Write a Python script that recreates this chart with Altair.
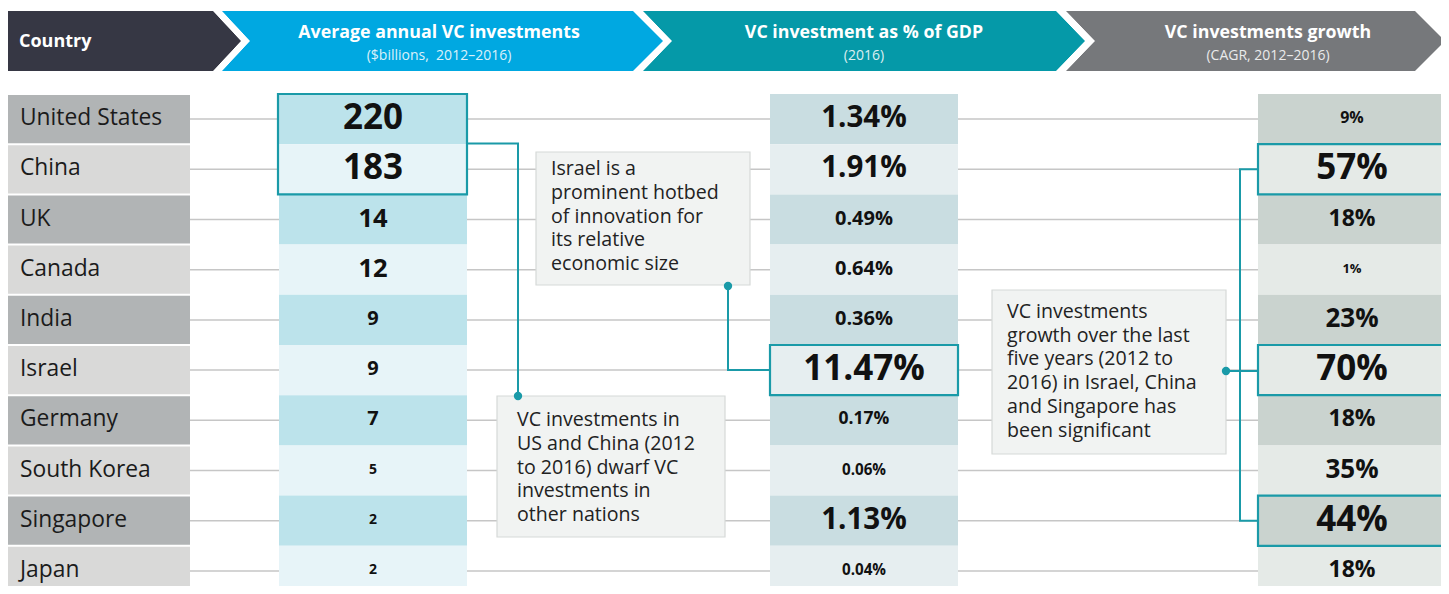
import altair as alt
import pandas as pd

# ---------------- data ----------------
countries = ["United States", "China", "UK", "Canada", "India", "Israel",
             "Germany", "South Korea", "Singapore", "Japan"]
vc_avg_billions = [220, 183, 14, 12, 9, 9, 7, 5, 2, 2]
vc_pct_gdp = [1.34, 1.91, 0.49, 0.64, 0.36, 11.47, 0.17, 0.06, 1.13, 0.04]
vc_growth_cagr = [9, 57, 18, 1, 23, 70, 18, 35, 44, 18]

header_titles = ["Country", "Average annual VC investments",
                 "VC investment as % of GDP", "VC investments growth"]
header_subtitles = ["", "($billions,\u00a0\u00a02012–2016)", "(2016)", "(CAGR, 2012–2016)"]

callout_israel = ["Israel is a", "prominent hotbed", "of innovation for",
                  "its relative", "economic size"]
callout_us_china = ["VC investments in", "US and China (2012", "to 2016) dwarf VC",
                    "investments in", "other nations"]
callout_growth = ["VC investments", "growth over the last", "five years (2012 to",
                  "2016) in Israel, China", "and Singapore has", "been significant"]

highlight_vc = ["United States", "China"]
highlight_gdp = ["Israel"]
highlight_growth = ["China", "Israel", "Singapore"]

# ---------------- layout / style ----------------
FONT = "Open Sans"
TEAL = "#1a9aa8"
ROW0, PITCH = 94.0, 50.2
N = len(countries)


def top(i):
    return ROW0 + i * PITCH


def mid(i):
    return ROW0 + (i + 0.5) * PITCH


COLS = {
    "country": (4, 190, "#b1b4b5", "#d9d9d8"),
    "vc": (279, 467, "#bce3eb", "#e7f4f8"),
    "gdp": (770, 958, "#c9dde1", "#e6eef0"),
    "growth": (1258, 1446, "#cad3cf", "#e5eae7"),
}

XS = alt.Scale(domain=[8, 1441], nice=False, zero=False)
YS = alt.Scale(domain=[8, 586], nice=False, zero=False, reverse=True)


def X(f):
    return alt.X(f"{f}:Q", scale=XS, axis=None)


def Y(f):
    return alt.Y(f"{f}:Q", scale=YS, axis=None)


def fs_vc(v):
    return 35 if v >= 100 else 25.5 if v >= 10 else 20 if v >= 7 else 14


def fs_gdp(v):
    return 35 if v >= 10 else 29.5 if v >= 1 else 20 if v >= 0.3 else 17.5 if v >= 0.1 else 15.2


def fs_growth(v):
    return 35 if v >= 40 else 26 if v >= 20 else 23 if v >= 15 else 16 if v >= 5 else 13


# ---------------- header chevrons (built from one-pixel horizontal strips) ----------------
HT, HB = 11, 71
HM = (HT + HB) / 2
chev_geo = [  # left, notch, right, tip, colour
    (3, None, 213, 241, "#363744"),
    (222, 250, 633, 663, "#00a8e1"),
    (643, 672, 1056, 1085, "#0599a8"),
    (1066, 1095, 1415, 1445, "#76787b"),
]
strip_rows = []
half = (HB - HT) / 2
for l, n, r, t, c in chev_geo:
    for yy in range(HT, HB):
        yc = yy + 0.5
        f = 1 - abs(yc - HM) / half
        xr = r + (t - r) * f
        xl = l if n is None else l + (n - l) * f
        strip_rows.append({"y": yc, "xl": xl, "xr": xr, "fill": c})
strips = alt.Chart(pd.DataFrame(strip_rows)).mark_rule(strokeWidth=1.05, strokeCap="butt").encode(
    x=X("xl"), x2=alt.X2("xr:Q"), y=Y("y"), color=alt.Color("fill:N", scale=None))

centers = [19, 439, 864, 1268]
country_head_df = pd.DataFrame([{"x": centers[0], "y": 42, "t": header_titles[0]}])
title_df = pd.DataFrame([{"x": centers[k], "y": 33, "t": header_titles[k]} for k in range(1, 4)])
sub_df = pd.DataFrame([{"x": centers[k], "y": 56, "t": header_subtitles[k]} for k in range(1, 4)])

head_country = alt.Chart(country_head_df).mark_text(
    font=FONT, fontWeight="bold", fontSize=18, color="white", align="left", baseline="middle"
).encode(x=X("x"), y=Y("y"), text="t:N")
head_titles = alt.Chart(title_df).mark_text(
    font=FONT, fontWeight="bold", fontSize=17.8, color="white", align="center", baseline="middle"
).encode(x=X("x"), y=Y("y"), text="t:N")
head_subs = alt.Chart(sub_df).mark_text(
    font=FONT, fontSize=14, color="white", opacity=0.85, align="center", baseline="middle"
).encode(x=X("x"), y=Y("y"), text="t:N")

# ---------------- table cells ----------------
cell_rows = []
for i in range(N):
    for key, (x0, x1, c_odd, c_even) in COLS.items():
        y0, y1 = top(i), top(i + 1)
        if key == "country":
            y0, y1 = y0 + 1, y1 - 1
        cell_rows.append({"x0": x0, "x1": x1, "y0": y0, "y1": y1,
                          "fill": c_odd if i % 2 == 0 else c_even})
cells_df = pd.DataFrame(cell_rows)
cells = alt.Chart(cells_df).mark_rect(clip=True).encode(
    x=X("x0"), x2=alt.X2("x1:Q"), y=Y("y0"), y2=alt.Y2("y1:Q"),
    color=alt.Color("fill:N", scale=None))

grid_df = pd.DataFrame({"x0": [190] * N, "x1": [1258] * N, "y": [mid(i) for i in range(N)]})
grid = alt.Chart(grid_df).mark_rule(color="#c6c6c6", strokeWidth=1.5).encode(
    x=X("x0"), x2=alt.X2("x1:Q"), y=Y("y"))

# ---------------- callout boxes ----------------
callouts = [
    (callout_israel, 536, 750, 152, 285, 551, 169, 23.8),
    (callout_us_china, 497, 725, 396, 537, 517, 420, 23.8),
    (callout_growth, 992, 1226, 290, 454, 1007, 312, 23.7),
]
box_df = pd.DataFrame([{"x0": c[1], "x1": c[2], "y0": c[3], "y1": c[4]} for c in callouts])
boxes = alt.Chart(box_df).mark_rect(fill="#f1f3f2", stroke="#d6d9d8", strokeWidth=1.2).encode(
    x=X("x0"), x2=alt.X2("x1:Q"), y=Y("y0"), y2=alt.Y2("y1:Q"))
ctext_rows = []
for c in callouts:
    lines, tx, ty, lh = c[0], c[5], c[6], c[7]
    for j, s in enumerate(lines):
        ctext_rows.append({"x": tx, "y": ty + j * lh, "t": s})
ctext = alt.Chart(pd.DataFrame(ctext_rows)).mark_text(
    font=FONT, fontSize=19.6, color="#222222", align="left", baseline="middle"
).encode(x=X("x"), y=Y("y"), text="t:N")

# ---------------- connectors ----------------
ci = {c: i for i, c in enumerate(countries)}
paths = {
    "a": [(COLS["vc"][1], top(1) - 0.7), (518, top(1) - 0.7), (518, 396)],
    "b": [(728, 286), (728, mid(ci["Israel"])), (COLS["gdp"][0], mid(ci["Israel"]))],
    "c": [(1258, mid(ci["China"])), (1240, mid(ci["China"])),
          (1240, mid(ci["Singapore"])), (1258, mid(ci["Singapore"]))],
    "d": [(1226, 371), (1258, 371)],
}
path_rows = [{"p": k, "s": j, "x": x, "y": y} for k, pts in paths.items() for j, (x, y) in enumerate(pts)]
connectors = alt.Chart(pd.DataFrame(path_rows)).mark_line(
    color=TEAL, strokeWidth=2, strokeJoin="miter").encode(
    x=X("x"), y=Y("y"), detail="p:N", order=alt.Order("s:Q"))
dots_df = pd.DataFrame({"x": [728, 518, 1226], "y": [286, 396, 371]})
dots = alt.Chart(dots_df).mark_circle(size=70, color=TEAL, opacity=1).encode(x=X("x"), y=Y("y"))

# ---------------- highlight frames ----------------
hl_rows = []
idx = [ci[c] for c in highlight_vc]
hl_rows.append({"x0": COLS["vc"][0] - 1, "x1": COLS["vc"][1], "y0": top(min(idx)), "y1": top(max(idx) + 1)})
for c in highlight_gdp:
    hl_rows.append({"x0": COLS["gdp"][0], "x1": COLS["gdp"][1], "y0": top(ci[c]), "y1": top(ci[c] + 1)})
for c in highlight_growth:
    hl_rows.append({"x0": COLS["growth"][0], "x1": COLS["growth"][1] - 1, "y0": top(ci[c]), "y1": top(ci[c] + 1)})
frames = alt.Chart(pd.DataFrame(hl_rows)).mark_rect(
    fill="white", fillOpacity=0, stroke=TEAL, strokeWidth=2.2).encode(
    x=X("x0"), x2=alt.X2("x1:Q"), y=Y("y0"), y2=alt.Y2("y1:Q"))

# ---------------- texts ----------------
names_df = pd.DataFrame({"x": [20] * N, "y": [mid(i) - 1 for i in range(N)], "t": countries})
names = alt.Chart(names_df).mark_text(
    font=FONT, fontSize=22.8, color="#1b1b1b", align="left", baseline="middle"
).encode(x=X("x"), y=Y("y"), text="t:N")

val_rows = []
for i in range(N):
    v = vc_avg_billions[i]
    val_rows.append({"x": (COLS["vc"][0] + COLS["vc"][1]) / 2, "y": mid(i) - 1, "t": f"{v}", "fs": fs_vc(v)})
    g = vc_pct_gdp[i]
    val_rows.append({"x": (COLS["gdp"][0] + COLS["gdp"][1]) / 2, "y": mid(i) - 1, "t": f"{g:.2f}%", "fs": fs_gdp(g)})
    r = vc_growth_cagr[i]
    val_rows.append({"x": (COLS["growth"][0] + COLS["growth"][1]) / 2, "y": mid(i) - 1, "t": f"{r}%", "fs": fs_growth(r)})
values = alt.Chart(pd.DataFrame(val_rows)).mark_text(
    font=FONT, fontWeight="bold", color="#111111", align="center", baseline="middle"
).encode(x=X("x"), y=Y("y"), text="t:N", size=alt.Size("fs:Q", scale=None))

chart = alt.layer(
    strips, head_country, head_titles, head_subs,
    grid, cells, boxes, connectors, frames, dots, ctext, names, values,
).properties(
    width=1433, height=578, padding=0,
    autosize=alt.AutoSizeParams(type="none"),
).configure_view(stroke=None)

chart.save("out.html", embed_options={"renderer": "svg", "actions": False})
